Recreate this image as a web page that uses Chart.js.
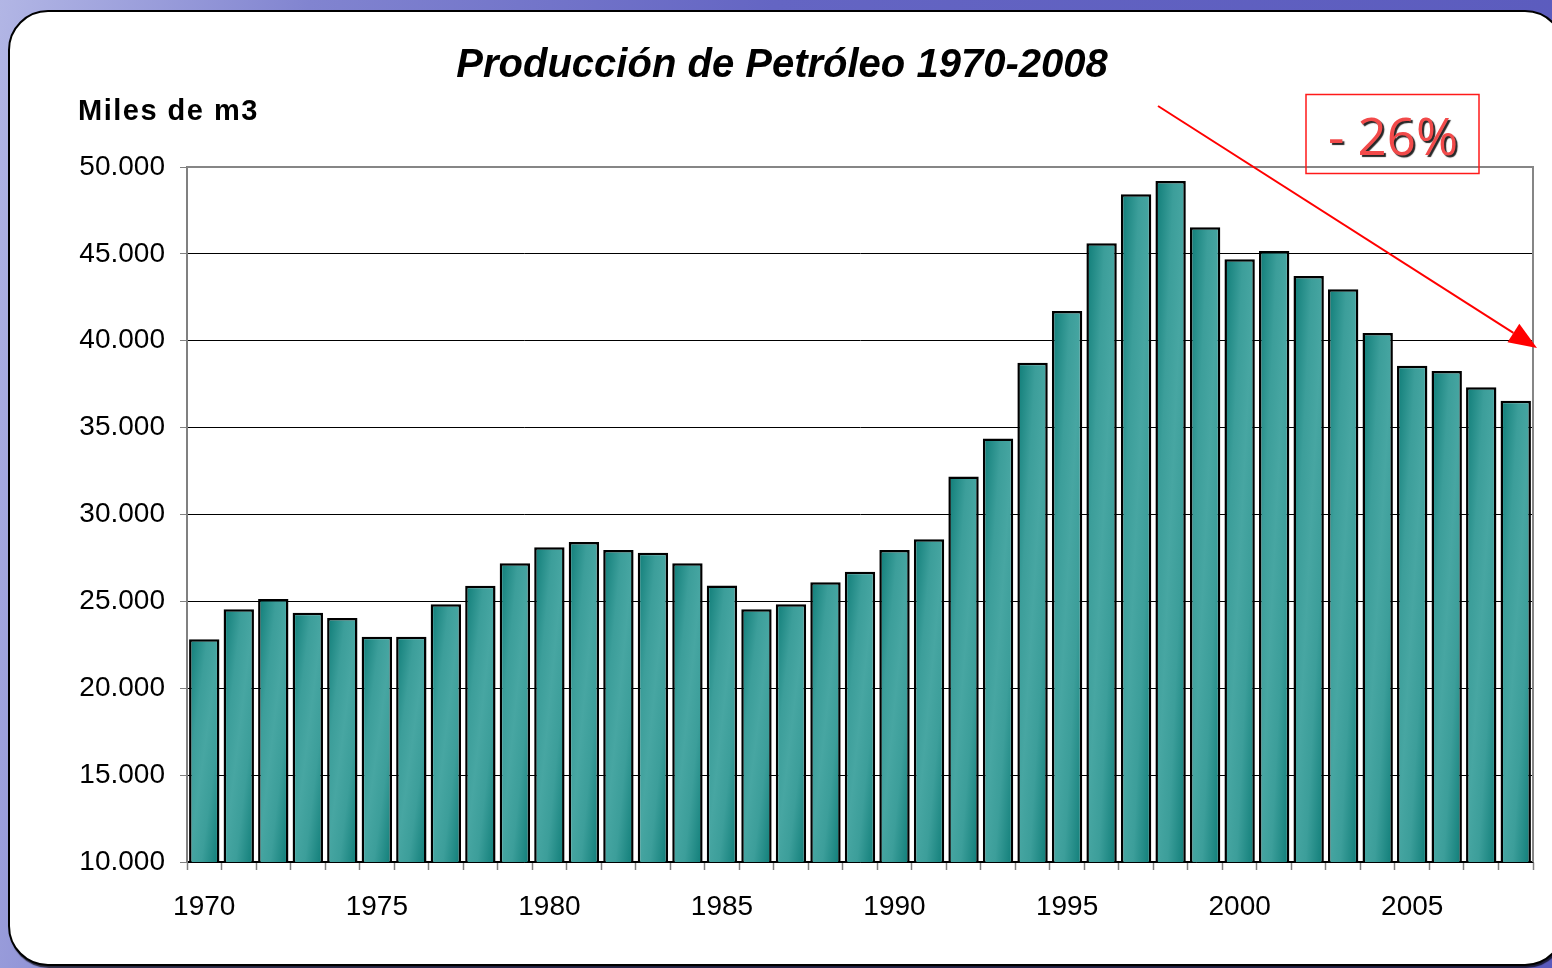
<!DOCTYPE html>
<html>
<head>
<meta charset="utf-8">
<title>Producción de Petróleo 1970-2008</title>
<script src="https://cdn.jsdelivr.net/npm/chart.js@4.4.0/dist/chart.umd.min.js"></script>
<style>
  html, body {
    margin: 0; padding: 0; width: 1552px; height: 968px; overflow: hidden;
    background: linear-gradient(100deg, #b2b6e5 0%, #8184d0 18%, #6465c3 45%, #5a5abd 100%);
  }
  #card {
    position: absolute; left: 8px; top: 10px; width: 1557px; height: 956px;
    box-sizing: border-box; background: #fff; border: 2px solid #000;
    border-radius: 40px; box-shadow: 1px 2px 1px rgba(0,0,0,0.7);
  }
  #wrap { position: absolute; left: 0; top: 0; width: 1552px; height: 968px; }
</style>
</head>
<body>
<div id="card"></div>
<div id="wrap"><canvas id="chart" width="1552" height="968"></canvas></div>
<script>
  'use strict';

  // ---- data (miles de m3) ----
  var YEARS = ['1970','1971','1972','1973','1974','1975','1976','1977','1978','1979',
               '1980','1981','1982','1983','1984','1985','1986','1987','1988','1989',
               '1990','1991','1992','1993','1994','1995','1996','1997','1998','1999',
               '2000','2001','2002','2003','2004','2005','2006','2007','2008'];
  var PRODUCTION = [22820, 24540, 25140, 24350, 24040, 22970, 22970, 24830, 25900, 27190,
                    28110, 28420, 27960, 27800, 27190, 25920, 24540, 24830, 26100, 26710,
                    27960, 28570, 32180, 34380, 38740, 41710, 45610, 48430, 49190, 46530,
                    44690, 45170, 43730, 42960, 40450, 38560, 38260, 37320, 36550];
  var Y_MIN = 10000, Y_MAX = 50000, Y_STEP = 5000;

  var TITLE = 'Producción de Petróleo 1970-2008';
  var UNIT = 'Miles de m3';
  var NOTE = '- 26%';

  var DARK = '#0e7c77', LIGHT = '#47a6a2', MID = '#3c9e9a';
  var BAR_PCT = 0.88;

  function fmt(v) {
    return String(v).replace(/\B(?=(\d{3})+(?!\d))/g, '.');
  }

  // diagonal gradient per bar: dark top-left and bottom-right corners
  function barFill(ctx) {
    var chart = ctx.chart, area = chart.chartArea;
    if (!area || ctx.type !== 'data') return LIGHT;
    var xs = chart.scales.x, ys = chart.scales.y;
    var w = xs.width / YEARS.length * BAR_PCT;
    var x0 = xs.getPixelForValue(ctx.dataIndex) - w / 2;
    var top = ys.getPixelForValue(ctx.raw);
    var h = area.bottom - top;
    if (!(h > 0) || !(w > 0)) return LIGHT;
    var k = 2 * w * h / (h * h + w * w);
    var g = chart.ctx.createLinearGradient(x0, top, x0 + h * k, top + w * k);
    g.addColorStop(0, DARK);
    g.addColorStop(0.3, MID);
    g.addColorStop(0.5, LIGHT);
    g.addColorStop(0.7, MID);
    g.addColorStop(1, DARK);
    return g;
  }

  var decor = {
    id: 'decor',
    beforeDatasetsDraw: function(chart) {
      var c = chart.ctx, a = chart.chartArea;
      c.save();
      c.strokeStyle = '#868686';
      c.lineWidth = 2;
      c.beginPath();
      c.moveTo(a.left, a.top);
      c.lineTo(a.right, a.top);
      c.lineTo(a.right, a.bottom);
      c.stroke();
      c.restore();
    },
    afterDraw: function(chart) {
      var c = chart.ctx;
      c.save();
      // title
      c.fillStyle = '#000';
      c.textAlign = 'center';
      c.textBaseline = 'alphabetic';
      c.font = 'italic bold 40px "Liberation Sans", Arial, sans-serif';
      c.fillText(TITLE, 782, 77);

      // unit label
      c.textAlign = 'left';
      c.font = 'bold 29px "Liberation Sans", Arial, sans-serif';
      c.letterSpacing = '1.5px';
      c.fillText(UNIT, 78, 120);
      c.letterSpacing = '0px';

      // red box
      c.strokeStyle = '#ff1a1a';
      c.lineWidth = 1.5;
      c.strokeRect(1306, 94.5, 173, 79);

      // -26% text with shadow
      c.font = '51px "Open Sans", "DejaVu Sans", sans-serif';
      c.textAlign = 'center';
      c.shadowColor = 'rgba(0,0,0,0.85)';
      c.shadowOffsetX = 2;
      c.shadowOffsetY = 2;
      c.shadowBlur = 1;
      c.fillStyle = '#f24a4a';
      c.fillText(NOTE, 1393, 155);
      c.shadowColor = 'transparent';

      // arrow
      var x1 = 1158, y1 = 106, tx = 1537, ty = 348;
      var dx = tx - x1, dy = ty - y1, len = Math.sqrt(dx * dx + dy * dy);
      var ux = dx / len, uy = dy / len;
      var bx = tx - 28 * ux, by = ty - 28 * uy;
      c.strokeStyle = '#ff0000';
      c.fillStyle = '#ff0000';
      c.lineWidth = 2;
      c.beginPath();
      c.moveTo(x1, y1);
      c.lineTo(bx, by);
      c.stroke();
      c.beginPath();
      c.moveTo(tx, ty);
      c.lineTo(bx - 11 * uy, by + 11 * ux);
      c.lineTo(bx + 11 * uy, by - 11 * ux);
      c.closePath();
      c.fill();
      c.restore();
    }
  };

  var tickFont = { family: '"Liberation Sans", Arial, sans-serif', size: 28 };

  new Chart(document.getElementById('chart'), {
    type: 'bar',
    data: {
      labels: YEARS,
      datasets: [{
        label: UNIT,
        data: PRODUCTION,
        backgroundColor: barFill,
        borderColor: '#000',
        borderWidth: 2.5,
        borderSkipped: false,
        barPercentage: BAR_PCT,
        categoryPercentage: 1
      }]
    },
    options: {
      responsive: false,
      animation: false,
      layout: { padding: { top: 167, right: 19, bottom: 0, left: 0 } },
      plugins: { legend: { display: false }, title: { display: false }, tooltip: { enabled: false } },
      scales: {
        x: {
          offset: true,
          afterFit: function(s) { s.height = 106; },
          grid: { offset: true, drawOnChartArea: false, tickLength: 8, tickColor: '#808080', tickWidth: 1.5 },
          border: { color: '#000', width: 1.5 },
          ticks: {
            autoSkip: false, maxRotation: 0, minRotation: 0,
            color: '#000', font: tickFont, padding: 20,
            callback: function(v, i) { return i % 5 === 0 ? YEARS[i] : ''; }
          }
        },
        y: {
          min: Y_MIN, max: Y_MAX,
          afterFit: function(s) { s.width = 187; },
          grid: {
            color: function(ctx) { return ctx.tick && ctx.tick.value === Y_MAX ? '#868686' : '#000'; },
            lineWidth: 1, tickLength: 7, tickColor: '#808080'
          },
          border: { color: '#808080', width: 2 },
          ticks: {
            stepSize: Y_STEP, color: '#000', font: tickFont, padding: 15,
            callback: function(v) { return fmt(v); }
          }
        }
      }
    },
    plugins: [decor]
  });
</script>
</body>
</html>
